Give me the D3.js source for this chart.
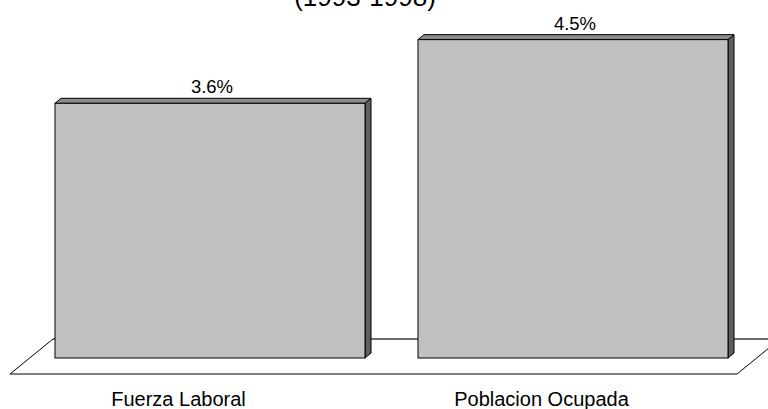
<!DOCTYPE html>
<html>
<head>
<meta charset="utf-8">
<script src="https://cdn.jsdelivr.net/npm/d3@7"></script>
<style>
  html, body { margin: 0; padding: 0; background: #fff; }
  svg { display: block; font-family: Arial, "Liberation Sans", sans-serif; }
</style>
</head>
<body>
<svg id="chart" width="768" height="409"></svg>
<script>
// Growth rates, 1993-1998
const categories = ["Fuerza Laboral", "Poblacion Ocupada"];
const values = [3.6, 4.5];
const valueLabels = ["3.6%", "4.5%"];
const titleText = "(1993-1998)";

const svg = d3.select("#chart");

// Geometry of the 3-D plot
const baseY = 358;          // front bottom of the bars
const depthX = 6, depthY = -5;   // bar depth offset
const floor = { frontY: 374, backY: 339, left: 10, right: 737, skew: 43 };

const x = d3.scaleBand()
  .domain(categories)
  .range([55, 728])
  .paddingInner(0.146)
  .paddingOuter(0);

const y = d3.scaleLinear()
  .domain([0, 5])
  .range([baseY, baseY - 5 * 70.75]);

// Title (partially above the visible area)
svg.append("text")
  .attr("x", 365)
  .attr("y", 6)
  .attr("text-anchor", "middle")
  .attr("font-size", 26)
  .attr("fill", "#000")
  .text(titleText);

// Floor
const fl = floor;
svg.append("path")
  .attr("d", `M${fl.left},${fl.frontY} L${fl.right},${fl.frontY} L${fl.right + fl.skew},${fl.backY} L${fl.left + fl.skew},${fl.backY} Z`)
  .attr("fill", "#fff")
  .attr("stroke", "none");
// back edge of the floor (grey)
svg.append("line")
  .attr("x1", fl.left + fl.skew).attr("y1", fl.backY)
  .attr("x2", fl.right + fl.skew).attr("y2", fl.backY)
  .attr("stroke", "#6e6e6e").attr("stroke-width", 2);
// front, left and right edges (black)
svg.append("path")
  .attr("d", `M${fl.left + fl.skew},${fl.backY} L${fl.left},${fl.frontY} L${fl.right},${fl.frontY} L${fl.right + fl.skew},${fl.backY}`)
  .attr("fill", "none")
  .attr("stroke", "#000")
  .attr("stroke-width", 1);

// Bars
const bars = svg.append("g").selectAll("g")
  .data(categories.map((c, i) => ({ cat: c, v: values[i], label: valueLabels[i] })))
  .join("g");

bars.each(function(d) {
  const g = d3.select(this);
  const x0 = x(d.cat), x1 = x0 + x.bandwidth();
  const yt = y(d.v), yb = y(0);
  // top face
  g.append("path")
    .attr("d", `M${x0},${yt} L${x0 + depthX},${yt + depthY} L${x1 + depthX},${yt + depthY} L${x1},${yt} Z`)
    .attr("fill", "#8c8c8c").attr("stroke", "#000").attr("stroke-width", 1)
    .attr("stroke-linejoin", "round");
  // side face
  g.append("path")
    .attr("d", `M${x1},${yt} L${x1 + depthX},${yt + depthY} L${x1 + depthX},${yb + depthY} L${x1},${yb} Z`)
    .attr("fill", "#5e5e5e").attr("stroke", "#000").attr("stroke-width", 1)
    .attr("stroke-linejoin", "round");
  // front face
  g.append("rect")
    .attr("x", x0).attr("y", yt)
    .attr("width", x.bandwidth()).attr("height", yb - yt)
    .attr("fill", "#c0c0c0").attr("stroke", "#000").attr("stroke-width", 1);
  // value label
  g.append("text")
    .attr("x", x0 + x.bandwidth() / 2 + 2)
    .attr("y", yt + depthY - 5)
    .attr("text-anchor", "middle")
    .attr("font-size", 18.5)
    .attr("fill", "#000")
    .text(d.label);
});

// Category labels along the front edge of the floor
svg.append("g").selectAll("text")
  .data(categories)
  .join("text")
  .attr("x", d => x(d) + x.bandwidth() / 2 - 31.5)
  .attr("y", 406)
  .attr("text-anchor", "middle")
  .attr("font-size", 20)
  .attr("fill", "#000")
  .text(d => d);
</script>
</body>
</html>
